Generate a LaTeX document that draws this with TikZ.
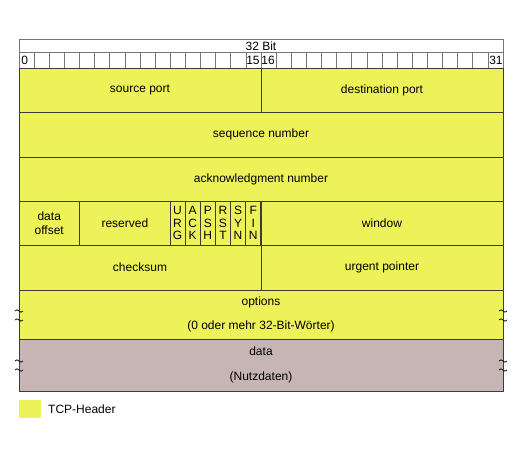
\documentclass[tikz,border=0pt]{standalone}
\usepackage{fontspec}
\setmainfont{Liberation Sans}
\definecolor{tcpyellow}{RGB}{237,242,88}
\definecolor{datagray}{RGB}{198,181,180}
\definecolor{linegray}{RGB}{60,60,60}
\tikzset{
    field/.style={draw=linegray, line width=0.8pt, fill=tcpyellow, inner sep=0pt,
        align=center, font=\fontsize{12}{14.5}\selectfont},
    flag/.style={field, minimum width=15.125pt, minimum height=44pt,
        font=\fontsize{12}{12.2}\selectfont},
    bitcell/.style={draw=linegray!70, line width=0.6pt, fill=white, inner sep=0pt,
        minimum width=15.125pt, minimum height=16pt},
    bitnum/.style={inner sep=1pt, font=\fontsize{12}{14}\selectfont},
    wiggle/.style={line width=0.7pt, draw=black}
}
\begin{document}
\begin{tikzpicture}[x=1pt, y=-1pt]
        \useasboundingbox (0,0) rectangle (522,449);

        % header rows
        \node[field, fill=white, draw=linegray!70, minimum width=484pt, minimum height=13pt] (bits) at (261, 45.5) {};
        \node[bitnum] (bitlabel) at (261, 46) {32 Bit};
        \foreach \i in {0,...,31}
            \node[bitcell] (c\i) at (19+15.125*\i+7.5625, 60) {};
        \node[bitnum, anchor=west, inner sep=2.5pt] (n0) at (c0.west) {0};
        \node[bitnum, anchor=west, inner sep=0.5pt] (n15) at (c15.west) {15};
        \node[bitnum, anchor=west, inner sep=0.5pt] (n16) at (c16.west) {16};
        \node[bitnum, anchor=east, inner sep=0.5pt] (n31) at (c31.east) {31};

        % header fields
        \node[field, minimum width=242pt, minimum height=44pt] (srcport) at (140, 90) {source port};
        \node[field, minimum width=242pt, minimum height=44pt] (dstport) at (382, 90) {destination port};
        \node[field, minimum width=484pt, minimum height=45pt] (seqnum) at (261, 134.5) {sequence number};
        \node[field, minimum width=484pt, minimum height=44pt] (acknum) at (261, 179) {acknowledgment number};

        \node[field, minimum width=60.5pt, minimum height=44pt] (offset) at (49.25, 223) {data\\offset};
        \node[field, minimum width=90.75pt, minimum height=44pt] (reserved) at (124.875, 223) {reserved};
        \node[flag] (urg) at (177.5625, 223) {U\\R\\G};
        \node[flag] (ack) at (192.6875, 223) {A\\C\\K};
        \node[flag] (psh) at (207.8125, 223) {P\\S\\H};
        \node[flag] (rst) at (222.9375, 223) {R\\S\\T};
        \node[flag] (syn) at (238.0625, 223) {S\\Y\\N};
        \node[flag] (fin) at (253.1875, 223) {F\\I\\N};
        \node[field, minimum width=242pt, minimum height=44pt] (window) at (382, 223) {window};

        \node[field, minimum width=242pt, minimum height=45pt] (checksum) at (140, 267.5) {checksum};
        \node[field, minimum width=242pt, minimum height=45pt] (urgent) at (382, 267.5) {urgent pointer};

        \node[field, minimum width=484pt, minimum height=49pt] (options) at (261, 314.5) {options\\[9.5pt](0 oder mehr 32-Bit-Wörter)};
        \node[field, fill=datagray, minimum width=484pt, minimum height=52pt] (data) at (261, 365) {data\\[10.5pt](Nutzdaten)};

        % break marks
        \foreach \y in {311, 320, 361, 370} {
            \draw[wiggle] (15,\y) sin (17,\y-1.2) cos (19,\y) sin (21,\y+1.2) cos (23,\y);
            \draw[wiggle] (499,\y) sin (501,\y-1.2) cos (503,\y) sin (505,\y+1.2) cos (507,\y);
        }

        % legend
        \node[fill=tcpyellow, minimum width=22pt, minimum height=18pt, inner sep=0pt] (legbox) at (30, 408.5) {};
        \node[bitnum, anchor=west, inner sep=0pt] (legtext) at (48, 409) {TCP-Header};
\end{tikzpicture}
\end{document}
